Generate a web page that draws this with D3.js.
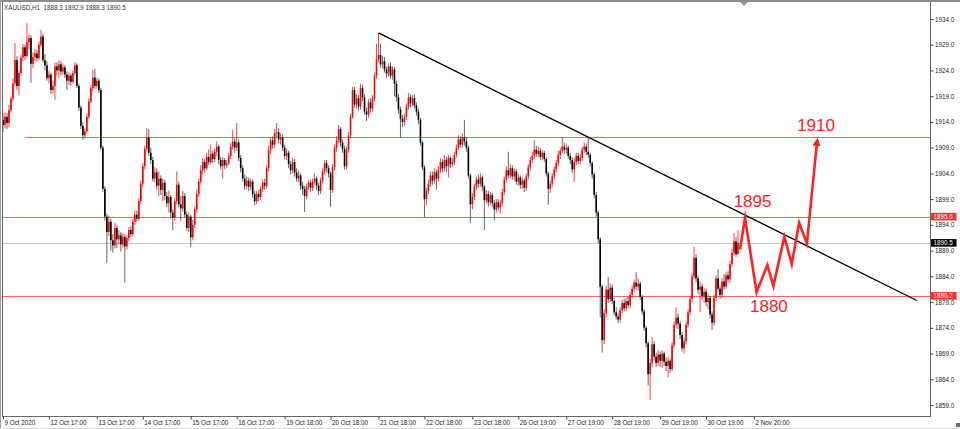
<!DOCTYPE html>
<html><head><meta charset="utf-8">
<script src="https://cdn.jsdelivr.net/npm/d3@7/dist/d3.min.js"></script>
<style>
html,body{margin:0;padding:0;background:#fff;}
svg{display:block;font-family:"Liberation Sans",Arial,sans-serif;}
</style></head>
<body>
<svg id="chart" width="960" height="429"></svg>
<script>
// ---------------- DATA ----------------
const symbolTitle = "XAUUSD,H1";
const lastQuote = [1888.3, 1892.9, 1888.3, 1890.5];

const opens = [
1914.4,1913.4,1915.0,1913.8,1916.3,1918.5,1921.5,1926.0,1921.0,1923.5,
1926.5,1928.5,1926.8,1929.5,1930.3,1925.3,1926.6,1927.3,1926.4,1929.0,
1930.6,1926.0,1925.0,1922.5,1923.2,1920.2,1921.0,1924.8,1924.0,1925.2,
1923.8,1924.6,1923.2,1922.0,1923.0,1921.8,1923.5,1925.0,1921.0,1916.8,
1913.2,1911.4,1912.2,1915.0,1918.0,1920.6,1922.6,1921.0,1922.0,1920.2,
1909.0,1901.0,1895.6,1892.6,1894.6,1891.0,1890.0,1893.4,1891.2,1892.0,
1890.2,1891.6,1889.8,1891.4,1893.0,1892.2,1894.6,1896.0,1895.2,1898.6,
1902.0,1905.4,1908.8,1911.0,1908.0,1906.6,1903.0,1904.2,1901.6,1903.0,
1900.8,1902.2,1899.6,1898.2,1899.4,1896.4,1895.4,1898.6,1901.8,1898.0,
1897.2,1899.6,1896.0,1893.4,1895.6,1891.6,1894.0,1897.0,1900.0,1902.4,
1904.6,1906.2,1905.0,1907.2,1906.2,1907.8,1906.8,1908.2,1909.2,1906.6,
1905.4,1906.6,1905.6,1906.0,1907.4,1909.2,1910.2,1909.0,1910.0,1907.0,
1905.0,1903.0,1901.6,1902.6,1901.4,1902.4,1900.0,1898.6,1900.0,1899.4,
1901.0,1902.2,1901.6,1905.0,1908.6,1910.4,1909.6,1911.8,1912.0,1910.6,
1911.0,1909.0,1907.4,1908.0,1905.8,1904.6,1906.2,1904.2,1903.0,1903.6,
1901.6,1901.0,1899.6,1901.4,1902.2,1901.2,1902.4,1903.0,1901.6,1900.6,
1902.6,1904.4,1906.0,1905.0,1904.0,1900.8,1905.2,1909.0,1910.4,1912.6,
1910.0,1908.8,1905.4,1908.6,1911.4,1915.0,1920.2,1917.4,1918.6,1917.0,
1920.6,1918.8,1916.0,1915.4,1917.8,1916.6,1918.6,1923.0,1926.2,1927.0,
1925.2,1925.8,1924.2,1923.4,1924.8,1923.0,1924.2,1921.4,1918.8,1916.4,
1914.6,1914.0,1915.0,1917.0,1918.8,1917.6,1918.6,1917.2,1916.0,1914.4,
1910.0,1905.2,1899.0,1900.6,1902.0,1903.6,1902.6,1904.2,1903.0,1904.6,
1906.2,1905.0,1906.6,1905.4,1907.0,1905.8,1906.2,1907.6,1909.0,1910.6,
1909.6,1911.0,1910.2,1909.0,1903.6,1898.0,1899.4,1901.4,1902.8,1902.0,
1903.2,1901.4,1898.8,1900.0,1898.4,1899.8,1898.2,1897.0,1898.4,1897.4,
1898.2,1900.4,1902.8,1904.6,1903.6,1905.0,1903.4,1904.4,1902.4,1903.2,
1901.8,1902.6,1901.2,1903.4,1905.2,1906.6,1907.4,1908.6,1907.8,1908.4,
1907.2,1908.0,1906.8,1904.0,1901.0,1902.0,1903.4,1904.8,1906.0,1907.6,
1908.4,1909.2,1908.6,1909.0,1907.4,1906.6,1904.8,1906.2,1907.4,1906.4,
1907.0,1908.6,1909.2,1908.2,1907.6,1906.0,1903.8,1899.8,1896.4,1891.2,
1882.0,1871.6,1876.8,1881.4,1879.6,1881.8,1879.2,1877.0,1876.2,1875.6,
1877.4,1878.8,1877.8,1879.2,1878.4,1880.4,1881.6,1882.8,1882.0,1882.6,
1880.0,1877.2,1874.0,1871.0,1865.0,1867.2,1870.8,1868.4,1867.2,1868.8,
1867.6,1869.0,1867.4,1866.6,1867.6,1866.0,1870.6,1874.6,1876.0,1874.8,
1872.6,1870.0,1871.4,1874.6,1877.0,1879.6,1884.0,1887.6,1883.6,1881.4,
1882.0,1880.2,1881.0,1879.0,1879.8,1876.6,1875.0,1879.8,1883.6,1881.6,
1880.4,1883.0,1882.0,1884.2,1883.4,1886.4,1888.6,1890.8,1888.3];

const highs = [
1915.7,1916.0,1915.7,1917.3,1919.0,1922.5,1929.3,1926.8,1924.0,1927.0,
1929.2,1929.0,1933.2,1931.0,1930.8,1927.5,1928.2,1928.0,1929.6,1931.9,
1931.2,1927.2,1925.8,1924.0,1923.6,1922.0,1925.5,1925.6,1926.0,1925.8,
1925.4,1925.0,1923.8,1923.6,1923.4,1924.0,1925.6,1925.4,1921.4,1917.2,
1914.0,1912.8,1915.6,1918.6,1921.2,1924.1,1924.3,1922.6,1922.4,1920.6,
1909.4,1901.5,1896.2,1895.8,1895.2,1892.2,1894.4,1894.0,1893.0,1892.6,
1892.4,1892.2,1892.0,1893.6,1893.8,1895.2,1896.8,1896.8,1899.2,1902.6,
1906.0,1909.4,1912.8,1912.6,1909.0,1907.2,1905.2,1905.0,1904.4,1903.6,
1903.0,1902.8,1900.4,1900.6,1899.8,1897.0,1899.2,1904.4,1902.4,1899.6,
1900.6,1900.2,1896.6,1896.4,1896.0,1895.0,1897.6,1900.8,1903.0,1905.6,
1907.0,1906.8,1908.0,1908.6,1909.6,1908.4,1908.8,1910.2,1909.6,1907.2,
1907.2,1907.0,1906.6,1908.0,1910.0,1912.4,1910.8,1913.8,1910.6,1907.6,
1905.6,1903.8,1903.4,1903.2,1903.0,1902.8,1900.6,1900.6,1900.8,1901.6,
1902.8,1903.0,1905.6,1909.4,1911.0,1911.2,1912.6,1913.8,1912.8,1911.8,
1911.6,1909.6,1908.8,1908.4,1906.4,1907.0,1906.8,1905.0,1904.6,1904.0,
1902.4,1901.6,1902.0,1902.8,1902.8,1903.0,1904.0,1903.4,1902.2,1903.2,
1905.0,1906.6,1906.6,1905.6,1904.4,1905.8,1909.6,1911.2,1913.4,1913.0,
1910.6,1909.4,1909.2,1912.0,1915.6,1920.8,1920.8,1919.4,1919.2,1921.4,
1921.2,1919.4,1916.8,1918.4,1918.6,1919.2,1923.6,1929.2,1931.3,1929.2,
1926.8,1926.6,1924.8,1925.4,1925.6,1924.8,1924.6,1922.0,1919.4,1917.0,
1915.4,1915.6,1917.6,1919.6,1919.4,1919.2,1919.4,1917.8,1916.6,1914.8,
1910.4,1905.6,1901.2,1902.8,1904.4,1904.4,1905.0,1904.8,1905.4,1907.0,
1906.8,1907.6,1907.2,1907.6,1907.4,1907.0,1908.2,1909.6,1911.4,1911.2,
1911.8,1914.4,1911.0,1909.4,1904.0,1900.2,1902.0,1903.4,1903.8,1904.0,
1903.6,1901.8,1900.8,1900.6,1900.4,1900.2,1898.8,1899.0,1899.0,1898.8,
1901.0,1903.4,1905.4,1908.2,1905.8,1905.6,1905.0,1904.8,1904.0,1903.6,
1903.2,1903.0,1904.0,1905.8,1907.2,1908.2,1910.5,1909.4,1909.2,1909.0,
1908.6,1908.4,1907.2,1904.4,1902.6,1904.0,1905.4,1906.6,1908.4,1909.0,
1911.1,1910.0,1909.8,1909.4,1908.0,1907.2,1907.0,1908.0,1908.0,1907.8,
1909.2,1910.0,1909.8,1910.9,1908.0,1906.4,1904.2,1900.4,1896.8,1891.6,
1882.4,1877.6,1882.2,1883.9,1882.6,1882.4,1879.8,1878.0,1876.8,1878.0,
1879.4,1879.6,1879.8,1880.0,1881.0,1882.2,1883.4,1884.8,1883.6,1883.0,
1880.4,1877.6,1874.4,1871.4,1868.0,1872.2,1871.4,1869.2,1869.6,1869.4,
1869.6,1869.4,1868.2,1868.4,1868.0,1871.2,1875.2,1878.0,1876.8,1875.4,
1873.2,1872.0,1875.2,1877.6,1880.2,1884.6,1889.7,1888.2,1884.2,1883.0,
1882.6,1881.8,1881.6,1880.6,1880.2,1877.2,1880.4,1884.2,1885.4,1882.2,
1883.6,1884.4,1884.8,1885.0,1887.0,1889.4,1892.4,1891.6,1892.9];

const lows = [
1912.0,1912.8,1912.6,1913.0,1915.8,1918.0,1921.0,1920.2,1919.2,1923.0,
1925.8,1926.0,1926.5,1928.2,1921.6,1924.5,1925.8,1925.6,1926.0,1928.5,
1925.6,1924.0,1922.0,1921.5,1919.4,1919.6,1918.3,1923.0,1922.5,1923.0,
1923.2,1922.5,1920.2,1921.2,1921.0,1921.4,1923.0,1920.6,1916.2,1912.6,
1910.5,1910.8,1911.8,1914.5,1917.6,1920.0,1920.4,1920.5,1919.6,1908.6,
1900.4,1894.8,1886.6,1891.8,1889.0,1888.6,1889.4,1889.5,1890.2,1888.8,
1889.6,1882.8,1889.2,1890.8,1891.6,1891.8,1894.0,1894.6,1894.8,1898.0,
1901.4,1904.8,1908.2,1907.4,1905.8,1902.4,1902.2,1900.8,1899.6,1899.8,
1898.6,1898.8,1897.4,1896.4,1895.2,1893.0,1894.8,1898.0,1897.4,1894.8,
1896.6,1895.4,1892.8,1892.6,1889.7,1891.0,1893.4,1896.4,1899.4,1901.8,
1903.8,1904.2,1904.6,1905.6,1905.8,1906.0,1906.2,1907.4,1905.8,1904.8,
1903.0,1904.8,1905.0,1905.6,1906.8,1908.6,1908.0,1908.4,1906.4,1904.2,
1902.4,1900.8,1901.0,1900.6,1900.8,1899.2,1897.8,1898.0,1898.6,1898.8,
1900.4,1900.8,1901.0,1904.4,1907.8,1908.8,1909.0,1910.8,1909.8,1909.6,
1908.4,1906.8,1906.6,1905.0,1903.8,1904.0,1903.4,1902.4,1902.2,1900.8,
1899.8,1896.5,1899.0,1900.8,1900.4,1900.6,1901.8,1900.8,1899.8,1900.0,
1902.0,1903.8,1904.2,1903.2,1897.5,1900.2,1904.6,1908.2,1909.8,1909.2,
1908.0,1904.8,1904.8,1908.0,1910.8,1914.6,1916.8,1916.6,1916.2,1916.4,
1918.0,1915.4,1914.2,1914.8,1915.8,1916.0,1918.0,1922.4,1925.6,1924.6,
1924.4,1923.6,1922.6,1922.8,1922.4,1922.2,1919.0,1918.0,1915.6,1910.9,
1913.0,1913.2,1914.4,1916.4,1916.8,1917.0,1916.6,1915.2,1913.6,1909.4,
1904.6,1895.5,1897.8,1900.0,1901.4,1901.8,1902.0,1900.8,1902.4,1904.0,
1904.2,1904.4,1904.2,1903.2,1905.0,1905.2,1905.6,1907.0,1908.6,1909.0,
1909.0,1909.4,1908.2,1903.0,1894.4,1897.0,1898.8,1900.8,1901.2,1901.4,
1900.6,1893.0,1898.2,1897.6,1897.8,1897.4,1894.9,1896.4,1896.8,1896.2,
1897.6,1899.8,1902.2,1903.0,1903.0,1902.8,1902.6,1901.8,1901.6,1901.0,
1901.0,1900.4,1900.6,1902.8,1904.6,1906.0,1906.8,1907.2,1907.2,1906.6,
1906.6,1906.2,1903.4,1897.9,1900.2,1901.4,1902.8,1904.2,1905.4,1906.8,
1908.0,1907.8,1907.8,1906.8,1905.8,1904.0,1902.3,1905.6,1905.8,1905.8,
1906.4,1908.0,1907.6,1907.0,1905.4,1903.0,1899.2,1895.6,1890.4,1876.0,
1869.2,1870.8,1876.0,1878.8,1879.0,1878.6,1876.4,1875.6,1874.9,1875.0,
1876.8,1877.2,1877.2,1877.8,1877.8,1879.8,1881.0,1881.4,1881.2,1879.4,
1876.6,1873.4,1870.2,1862.8,1860.0,1866.4,1867.6,1866.4,1866.6,1866.4,
1866.2,1866.6,1865.6,1864.4,1865.2,1865.6,1870.0,1874.0,1873.8,1871.8,
1869.4,1869.0,1870.8,1874.0,1876.4,1879.0,1883.4,1882.8,1880.6,1877.0,
1879.4,1878.8,1878.2,1877.6,1875.8,1873.6,1874.4,1879.2,1881.0,1879.6,
1879.8,1881.4,1881.6,1882.8,1882.8,1885.8,1888.0,1887.8,1888.3];

const closes = [
1913.4,1915.0,1913.8,1916.3,1918.5,1921.5,1926.0,1921.0,1923.5,1926.5,
1928.5,1926.8,1929.5,1930.3,1925.3,1926.6,1927.3,1926.4,1929.0,1930.6,
1926.0,1925.0,1922.5,1923.2,1920.2,1921.0,1924.8,1924.0,1925.2,1923.8,
1924.6,1923.2,1922.0,1923.0,1921.8,1923.5,1925.0,1921.0,1916.8,1913.2,
1911.4,1912.2,1915.0,1918.0,1920.6,1922.6,1921.0,1922.0,1920.2,1909.0,
1901.0,1895.6,1892.6,1894.6,1891.0,1890.0,1893.4,1891.2,1892.0,1890.2,
1891.6,1889.8,1891.4,1893.0,1892.2,1894.6,1896.0,1895.2,1898.6,1902.0,
1905.4,1908.8,1911.0,1908.0,1906.6,1903.0,1904.2,1901.6,1903.0,1900.8,
1902.2,1899.6,1898.2,1899.4,1896.4,1895.4,1898.6,1901.8,1898.0,1897.2,
1899.6,1896.0,1893.4,1895.6,1891.6,1894.0,1897.0,1900.0,1902.4,1904.6,
1906.2,1905.0,1907.2,1906.2,1907.8,1906.8,1908.2,1909.2,1906.6,1905.4,
1906.6,1905.6,1906.0,1907.4,1909.2,1910.2,1909.0,1910.0,1907.0,1905.0,
1903.0,1901.6,1902.6,1901.4,1902.4,1900.0,1898.6,1900.0,1899.4,1901.0,
1902.2,1901.6,1905.0,1908.6,1910.4,1909.6,1911.8,1912.0,1910.6,1911.0,
1909.0,1907.4,1908.0,1905.8,1904.6,1906.2,1904.2,1903.0,1903.6,1901.6,
1901.0,1899.6,1901.4,1902.2,1901.2,1902.4,1903.0,1901.6,1900.6,1902.6,
1904.4,1906.0,1905.0,1904.0,1900.8,1905.2,1909.0,1910.4,1912.6,1910.0,
1908.8,1905.4,1908.6,1911.4,1915.0,1920.2,1917.4,1918.6,1917.0,1920.6,
1918.8,1916.0,1915.4,1917.8,1916.6,1918.6,1923.0,1926.2,1927.0,1925.2,
1925.8,1924.2,1923.4,1924.8,1923.0,1924.2,1921.4,1918.8,1916.4,1914.6,
1914.0,1915.0,1917.0,1918.8,1917.6,1918.6,1917.2,1916.0,1914.4,1910.0,
1905.2,1899.0,1900.6,1902.0,1903.6,1902.6,1904.2,1903.0,1904.6,1906.2,
1905.0,1906.6,1905.4,1907.0,1905.8,1906.2,1907.6,1909.0,1910.6,1909.6,
1911.0,1910.2,1909.0,1903.6,1898.0,1899.4,1901.4,1902.8,1902.0,1903.2,
1901.4,1898.8,1900.0,1898.4,1899.8,1898.2,1897.0,1898.4,1897.4,1898.2,
1900.4,1902.8,1904.6,1903.6,1905.0,1903.4,1904.4,1902.4,1903.2,1901.8,
1902.6,1901.2,1903.4,1905.2,1906.6,1907.4,1908.6,1907.8,1908.4,1907.2,
1908.0,1906.8,1904.0,1901.0,1902.0,1903.4,1904.8,1906.0,1907.6,1908.4,
1909.2,1908.6,1909.0,1907.4,1906.6,1904.8,1906.2,1907.4,1906.4,1907.0,
1908.6,1909.2,1908.2,1907.6,1906.0,1903.8,1899.8,1896.4,1891.2,1882.0,
1871.6,1876.8,1881.4,1879.6,1881.8,1879.2,1877.0,1876.2,1875.6,1877.4,
1878.8,1877.8,1879.2,1878.4,1880.4,1881.6,1882.8,1882.0,1882.6,1880.0,
1877.2,1874.0,1871.0,1865.0,1867.2,1870.8,1868.4,1867.2,1868.8,1867.6,
1869.0,1867.4,1866.6,1867.6,1866.0,1870.6,1874.6,1876.0,1874.8,1872.6,
1870.0,1871.4,1874.6,1877.0,1879.6,1884.0,1887.6,1883.6,1881.4,1882.0,
1880.2,1881.0,1879.0,1879.8,1876.6,1875.0,1879.8,1883.6,1881.6,1880.4,
1883.0,1882.0,1884.2,1883.4,1886.4,1888.6,1890.8,1888.3,1890.5];

// time axis labels and the bar index each one sits on
const timeLabels = ["9 Oct 2020","12 Oct 17:00","13 Oct 17:00","14 Oct 17:00","15 Oct 17:00",
  "16 Oct 17:00","19 Oct 18:00","20 Oct 18:00","21 Oct 18:00","22 Oct 18:00","23 Oct 18:00",
  "26 Oct 19:00","27 Oct 19:00","28 Oct 19:00","29 Oct 19:00","30 Oct 19:00","2 Nov 20:00"];
const timeLabelBars = [0,23,47,70,94,117,141,164,188,211,235,258,282,305,329,352,376];

// price axis ticks
const priceTicks = [1934,1929,1924,1919,1914,1909,1904,1899,1894,1889,1884,1879,1874,1869,1864,1859];

// horizontal levels
const supportResistance = [1895.6, 1880.2];
const upperLevel = {price: 1911.1, fromBar: 11};
const bidPrice = 1890.5;

// trendline (bar index, price)
const trendBars = [188, 457.5];
const trendPrices = [1931.3, 1879.3];

// projected path (bar index, price)
const projBars   = [369.0, 371.5, 377.3, 382.7, 385.7, 391.2, 394.9, 398.6, 402.5, 407.6];
const projPrices = [1889.2, 1895.4, 1880.9, 1886.2, 1882.1, 1891.7, 1886.4, 1894.4, 1890.4, 1910.3];

// annotation labels
const noteTexts  = ["1910", "1895", "1880"];
const noteBars   = [397.6, 365.8, 374.0];
const notePrices = [1912.3, 1897.4, 1877.1];

// ---------------- DRAW ----------------
const W = 960, H = 429;
const plot = {left: 2, top: 2, right: 930, bottom: 416};
const svg = d3.select("#chart");

const x = d3.scaleLinear().domain([0, 376]).range([3, 754]);
const y = d3.scaleLinear().domain([1859, 1934]).range([405, 19]);

svg.append("rect").attr("width", W).attr("height", H).attr("fill", "#fff");

const candles = opens.map((o, i) => ({i, o, h: highs[i], l: lows[i], c: closes[i]}));

const clipId = "plotclip";
svg.append("clipPath").attr("id", clipId).append("rect")
  .attr("x", plot.left + 1).attr("y", plot.top + 1)
  .attr("width", plot.right - plot.left - 1).attr("height", plot.bottom - plot.top - 1);
const g = svg.append("g").attr("clip-path", `url(#${clipId})`);

const crisp = v => Math.round(v) + 0.5;
const levelColor = "#ff6464";

// bid line
g.append("line").attr("x1", plot.left).attr("x2", plot.right)
  .attr("y1", crisp(y(bidPrice))).attr("y2", crisp(y(bidPrice)))
  .attr("stroke", "#c8c8c8").attr("stroke-width", 1);

// horizontal levels
g.selectAll("line.level").data(supportResistance).enter().append("line")
  .attr("class", "level")
  .attr("x1", plot.left).attr("x2", plot.right)
  .attr("y1", d => crisp(y(d))).attr("y2", d => crisp(y(d)))
  .attr("stroke", levelColor).attr("stroke-width", 1);
g.append("line")
  .attr("x1", x(upperLevel.fromBar)).attr("x2", plot.right)
  .attr("y1", crisp(y(upperLevel.price))).attr("y2", crisp(y(upperLevel.price)))
  .attr("stroke", levelColor).attr("stroke-width", 1);

// candles
const upCol = "#ff0000", dnCol = "#000000";
const cg = g.append("g");
cg.selectAll("line.wick").data(candles).enter().append("line")
  .attr("class", "wick")
  .attr("x1", d => x(d.i)).attr("x2", d => x(d.i))
  .attr("y1", d => y(d.h)).attr("y2", d => y(d.l))
  .attr("stroke", d => d.c >= d.o ? upCol : "#333")
  .attr("stroke-width", 0.75);
cg.selectAll("rect.body").data(candles).enter().append("rect")
  .attr("class", "body")
  .attr("x", d => x(d.i) - 0.8).attr("width", 1.6)
  .attr("y", d => y(Math.max(d.o, d.c)))
  .attr("height", d => Math.max(0.7, Math.abs(y(d.o) - y(d.c))))
  .attr("fill", d => d.c >= d.o ? upCol : dnCol);

// trendline
g.append("line")
  .attr("x1", x(trendBars[0])).attr("y1", y(trendPrices[0]))
  .attr("x2", x(trendBars[1])).attr("y2", y(trendPrices[1]))
  .attr("stroke", "#000").attr("stroke-width", 1.3);

// projected path
const projColor = "#ff2222";
const defs = svg.append("defs");
defs.append("marker").attr("id", "arrowHead")
  .attr("viewBox", "0 0 10 10").attr("refX", 6).attr("refY", 5)
  .attr("markerWidth", 3.2).attr("markerHeight", 3.2).attr("orient", "auto")
  .append("path").attr("d", "M0,0 L10,5 L0,10 Z").attr("fill", projColor);
const projPts = projBars.map((b, i) => [x(b), y(projPrices[i])]);
g.append("path")
  .attr("d", d3.line()(projPts))
  .attr("fill", "none").attr("stroke", projColor).attr("stroke-width", 2.6)
  .attr("stroke-linejoin", "miter").attr("stroke-miterlimit", 12)
  .attr("marker-end", "url(#arrowHead)");

// annotation labels
svg.selectAll("text.note").data(noteTexts).enter().append("text")
  .attr("class", "note")
  .attr("x", (d, i) => x(noteBars[i])).attr("y", (d, i) => y(notePrices[i]))
  .attr("fill", projColor).attr("font-size", 17)
  .attr("font-family", "'Liberation Sans', Arial, sans-serif")
  .text(d => d);

// ---------- frame ----------
svg.append("line").attr("x1", 0).attr("x2", W).attr("y1", 1).attr("y2", 1)
  .attr("stroke", "#8c8c8c").attr("stroke-width", 2);
svg.append("line").attr("x1", 0.5).attr("x2", 0.5).attr("y1", 0).attr("y2", 429)
  .attr("stroke", "#a0a0a0").attr("stroke-width", 1);
svg.append("line").attr("x1", 2.5).attr("x2", 2.5).attr("y1", 2).attr("y2", plot.bottom)
  .attr("stroke", "#6a6a6a").attr("stroke-width", 1);
svg.append("line").attr("x1", plot.right + 0.5).attr("x2", plot.right + 0.5)
  .attr("y1", 2).attr("y2", plot.bottom + 0.5)
  .attr("stroke", "#6a6a6a").attr("stroke-width", 1);
svg.append("line").attr("x1", 2).attr("x2", plot.right + 1)
  .attr("y1", plot.bottom + 0.5).attr("y2", plot.bottom + 0.5)
  .attr("stroke", "#6a6a6a").attr("stroke-width", 1);
svg.append("line").attr("x1", 0).attr("x2", W).attr("y1", 428.5).attr("y2", 428.5)
  .attr("stroke", "#dcdcdc").attr("stroke-width", 1);
// small decorations of the terminal window
svg.append("path").attr("d", "M740,2 L748,2 L744,6 Z").attr("fill", "#9a9a9a");
svg.append("rect").attr("x", 956).attr("y", 423).attr("width", 4).attr("height", 4).attr("fill", "#6a6a6a");

// ---------- price axis ----------
const tickFont = "'Liberation Sans', Arial, sans-serif";
const yAxis = d3.axisRight(y).tickValues(priceTicks).tickFormat(d3.format(".1f"))
  .tickSize(3).tickPadding(1.5);
const ya = svg.append("g").attr("transform", `translate(${plot.right + 0.5},0)`).call(yAxis);
ya.select(".domain").remove();
ya.selectAll(".tick line").attr("stroke", "#444");
ya.selectAll(".tick text").attr("font-size", 6.3).attr("font-family", tickFont).attr("fill", "#222");

// price tags
const tags = [
  {p: supportResistance[0], bg: "#ff2a2a"},
  {p: bidPrice, bg: "#000000"},
  {p: supportResistance[1], bg: "#ff2a2a"}
];
const tg = svg.selectAll("g.tag").data(tags).enter().append("g").attr("class", "tag")
  .attr("transform", d => `translate(${plot.right + 1},${y(d.p)})`);
tg.append("rect").attr("x", 0).attr("y", -3.8).attr("width", 25.5).attr("height", 7.6)
  .attr("fill", d => d.bg);
tg.append("text").attr("x", 2.5).attr("y", 2.3).attr("font-size", 6.3).attr("font-family", tickFont)
  .attr("fill", "#fff").text(d => d3.format(".1f")(d.p));

// ---------- time axis ----------
const xAxis = d3.axisBottom(x).tickValues(timeLabelBars)
  .tickFormat((d, i) => timeLabels[i]).tickSize(3).tickPadding(1.5);
const xa = svg.append("g").attr("transform", `translate(0,${plot.bottom + 0.5})`).call(xAxis);
xa.select(".domain").remove();
xa.selectAll(".tick line").attr("stroke", "#444");
xa.selectAll(".tick text").attr("font-size", 6.3).attr("font-family", tickFont).attr("fill", "#222")
  .attr("text-anchor", "start").attr("x", 1);

// ---------- header ----------
svg.append("text").attr("x", 4).attr("y", 9.5).attr("font-size", 6.3).attr("font-family", tickFont)
  .attr("fill", "#333").attr("xml:space", "preserve")
  .text(symbolTitle + "  " + lastQuote.map(d3.format(".1f")).join(" "));
</script>
</body></html>
